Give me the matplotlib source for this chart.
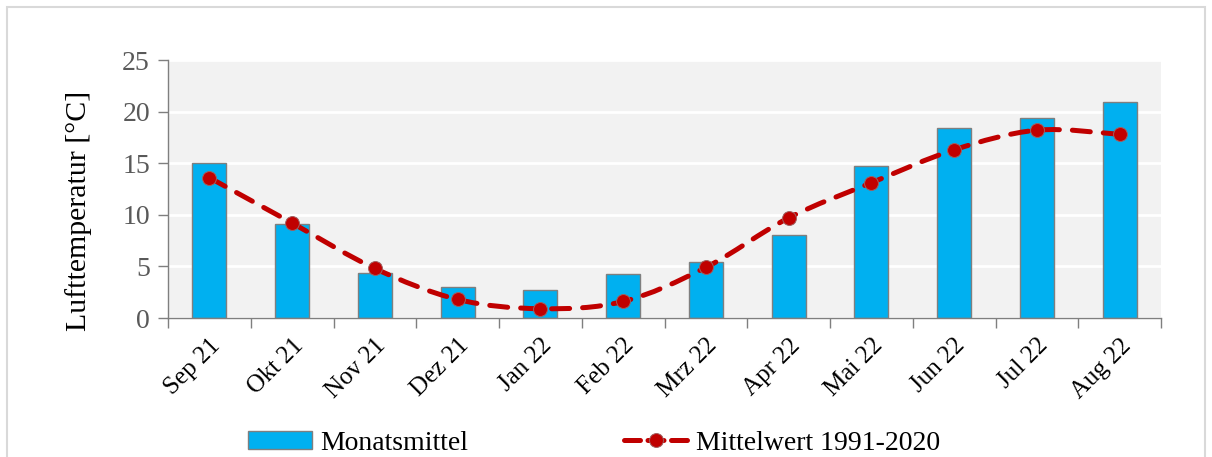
import matplotlib
matplotlib.use("Agg")
import matplotlib.pyplot as plt
import numpy as np
from matplotlib.path import Path
from matplotlib.patches import PathPatch, Rectangle, Patch
from matplotlib.lines import Line2D

months = ['Sep 21', 'Okt 21', 'Nov 21', 'Dez 21', 'Jan 22', 'Feb 22',
          'Mrz 22', 'Apr 22', 'Mai 22', 'Jun 22', 'Jul 22', 'Aug 22']
monatsmittel = [15.0, 9.1, 4.4, 3.0, 2.7, 4.3, 5.4, 8.0, 14.7, 18.4, 19.4, 20.9]
mittelwert = [13.6, 9.2, 4.8, 1.8, 0.9, 1.6, 4.9, 9.7, 13.1, 16.3, 18.2, 17.8]

plt.rcParams['font.family'] = ['Liberation Serif', 'DejaVu Serif']

fig = plt.figure(figsize=(12.12, 4.57), dpi=100)
ax = fig.add_axes([168 / 1212, 1 - 318 / 457, (1161 - 168) / 1212, (318 - 60) / 457])

# outer chart frame
fig.patches.append(Rectangle((7 / 1212, -0.05), 1198 / 1212, 1 - 7 / 457 + 0.05,
                             transform=fig.transFigure, fill=False,
                             edgecolor='#D9D9D9', linewidth=1.5))

x = np.arange(len(months))
ax.set_facecolor('#F2F2F2')
ax.bar(x, monatsmittel, width=0.41, color='#00B0F0', edgecolor='#7F7F7F',
       linewidth=1, zorder=2)

# smoothed line (Catmull-Rom style Bezier through the points)
pts = np.column_stack([x, mittelwert]).astype(float)
ext = np.vstack([pts[0], pts, pts[-1]])
verts = [tuple(pts[0])]
codes = [Path.MOVETO]
for i in range(len(pts) - 1):
    p0, p1, p2, p3 = ext[i], ext[i + 1], ext[i + 2], ext[i + 3]
    c1 = p1 + (p2 - p0) / 6
    c2 = p2 - (p3 - p1) / 6
    verts += [tuple(c1), tuple(c2), tuple(p2)]
    codes += [Path.CURVE4] * 3
curve = PathPatch(Path(verts, codes), fill=False, edgecolor='#C00000',
                  linewidth=3.6, linestyle=(0, (3.6, 2.6)), capstyle='round',
                  zorder=3)
ax.add_patch(curve)
ax.plot(x, mittelwert, linestyle='none', marker='o', markersize=10,
        markerfacecolor='#C00000', markeredgecolor='#A06060',
        markeredgewidth=0.7, zorder=4)

ax.set_xlim(-0.5, len(months) - 0.5)
ax.set_ylim(0, 25)
ax.set_yticks(np.arange(0, 26, 5))
ax.yaxis.grid(True, color='white', linewidth=2)
ax.set_axisbelow(True)
ax.tick_params(axis='y', labelsize=20, labelcolor='#595959', color='#7F7F7F',
               length=7, width=1, pad=6)

ax.set_xticks(x)
ax.set_xticklabels(months, rotation=45, ha='right', rotation_mode='anchor',
                   fontsize=18)
ax.tick_params(axis='x', length=0, pad=12)
ax.set_xticks(np.arange(-0.5, len(months)), minor=True)
ax.tick_params(axis='x', which='minor', length=7, width=1, color='#7F7F7F')

for s in ['top', 'right']:
    ax.spines[s].set_visible(False)
for s in ['left', 'bottom']:
    ax.spines[s].set_color('#7F7F7F')
    ax.spines[s].set_linewidth(1)

ax.set_ylabel('Lufttemperatur [°C]', fontsize=21.5)
ax.yaxis.set_label_coords(-0.077, 0.415)

handles = [
    Patch(facecolor='#00B0F0', edgecolor='#7F7F7F', linewidth=1),
    Line2D([], [], color='#C00000', linewidth=3.6, linestyle=(0, (3.2, 1.5)),
           dash_capstyle='round', marker='o', markersize=10,
           markerfacecolor='#C00000', markeredgecolor='#A06060',
           markeredgewidth=0.7),
]
fig.legend(handles, ['Monatsmittel', 'Mittelwert 1991-2020'], loc='lower center',
           bbox_to_anchor=(0.49, -0.052), ncol=2, frameon=False, fontsize=20,
           handlelength=2.3, handleheight=0.6, handletextpad=0.3,
           columnspacing=5.6, numpoints=1)

fig.savefig('out.png', dpi=100)
